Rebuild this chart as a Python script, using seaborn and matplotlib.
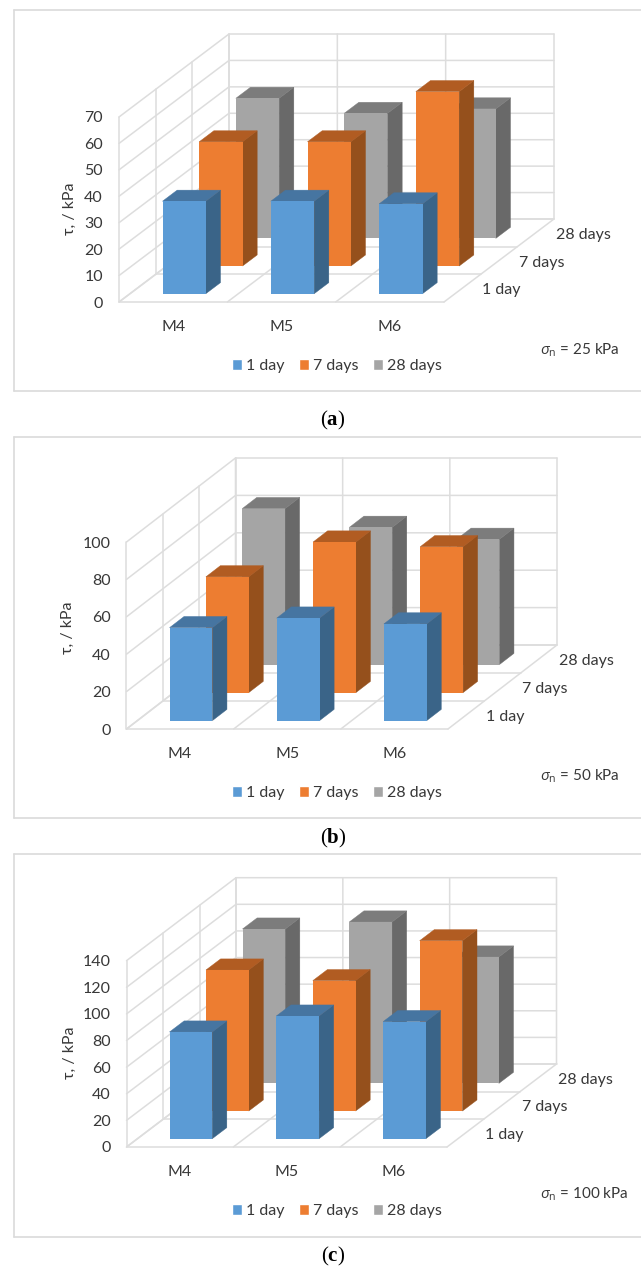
"""
Tensao de cisalhamento por mistura e idade, tres paineis em falso 3D.

As barras frontais saem do seaborn; cada serie e deslocada em profundidade
e as faces lateral e superior sao montadas a partir dos retangulos.
"""

import matplotlib

matplotlib.use("Agg")
import matplotlib.pyplot as plt
import pandas as pd
import seaborn as sns
from matplotlib.lines import Line2D
from matplotlib.patches import Patch, Polygon
from matplotlib.transforms import Affine2D, IdentityTransform

WIDTH, HEIGHT = 641, 1269

MIXES = ["M4", "M5", "M6"]
AGES = ["1 day", "7 days", "28 days"]

TAU_25 = [[35, 35, 34], [47, 47, 66], [53, 47.3, 49]]
TAU_50 = [[49.7, 54.8, 51.7], [61.9, 80.5, 78], [83.4, 73.4, 67]]
TAU_100 = [[80.2, 92.2, 88], [106, 98, 128], [116, 121.3, 95]]

LIMITS = [70, 100, 140]
STEPS = [10, 20, 20]
STRESS = ["25", "50", "100"]
LETTERS = ["a", "b", "c"]

FRONT = ["#5B9BD5", "#ED7D31", "#A5A5A5"]
SIDE = ["#3A6488", "#95501C", "#696969"]
TOP = ["#4675A1", "#B15C22", "#7C7C7C"]
GRID = "#DDDDDD"
TEXT = "#383838"

# posicoes em pixels da imagem: eixo frontal, profundidade total e moldura
LAYOUT = [
    dict(left=119, right=444, floor=302, top=117, dx=110, dy=83, box=(10, 391),
         ylabel=(70, 209), legend=366, sigma=350, caption=420.5),
    dict(left=126.5, right=448, floor=729, top=542, dx=109, dy=84, box=(436.5, 818),
         ylabel=(68, 628), legend=793, sigma=776, caption=838),
    dict(left=126.5, right=447, floor=1147, top=960.7, dx=109.5, dy=83, box=(854, 1236.5),
         ylabel=(70, 1053), legend=1211, sigma=1194, caption=1256.5),
]

sns.set_theme(style="white")
plt.rcParams["font.family"] = ["Lato", "DejaVu Sans"]
plt.rcParams["mathtext.fontset"] = "custom"
plt.rcParams["mathtext.rm"] = "Open Sans"
plt.rcParams["mathtext.it"] = "Open Sans:italic"
plt.rcParams["mathtext.bf"] = "Liberation Serif:bold"
plt.rcParams["text.color"] = TEXT

fig = plt.figure(figsize=(WIDTH / 100, HEIGHT / 100), dpi=100, facecolor="white")
px = Affine2D().scale(1, -1).translate(0, HEIGHT)


def draw_grid(ax, project, limit, step):
    levels = list(range(0, limit + 1, step))
    segments = []
    for level in levels:
        segments.append([project(-0.5, level, 0), project(-0.5, level, 3), project(2.5, level, 3)])
    for x in [-0.5, 0.5, 1.5, 2.5]:
        segments.append([project(x, 0, 0), project(x, 0, 3), project(x, limit, 3)])
    for depth in [0, 1, 2, 3]:
        segments.append([project(2.5, 0, depth), project(-0.5, 0, depth), project(-0.5, limit, depth)])
    for points in segments:
        xs, ys = zip(*points)
        ax.add_line(Line2D(xs, ys, color=GRID, lw=1.1, transform=IdentityTransform(),
                           clip_on=False, zorder=1))


def draw_panel(values, limit, step, stress, letter, cfg):
    ax = fig.add_axes([
        cfg["left"] / WIDTH,
        1 - cfg["floor"] / HEIGHT,
        (cfg["right"] - cfg["left"]) / WIDTH,
        (cfg["floor"] - cfg["top"]) / HEIGHT,
    ])

    df = pd.DataFrame(
        [(mix, age, values[i][j]) for i, age in enumerate(AGES) for j, mix in enumerate(MIXES)],
        columns=["mix", "age", "tau"],
    )
    sns.barplot(data=df, x="mix", y="tau", hue="age", hue_order=AGES, order=MIXES,
                palette=FRONT, dodge=False, width=0.4, errorbar=None, saturation=1,
                linewidth=0, legend=False, ax=ax)
    ax.set_xlim(-0.5, 2.5)
    ax.set_ylim(0, limit)
    ax.set_yticks(range(0, limit + 1, step))
    ax.patch.set_alpha(0)
    sns.despine(ax=ax, left=True, bottom=True)
    ax.tick_params(axis="x", length=0, pad=13, labelsize=11.5, labelcolor=TEXT)
    ax.tick_params(axis="y", length=0, pad=11.5, labelsize=11.5, labelcolor=TEXT)
    ax.set_xlabel("")
    ax.set_ylabel("")

    def project(x, y, depth):
        sx, sy = ax.transData.transform((x, y))
        return sx + depth / 3 * cfg["dx"], sy + depth / 3 * cfg["dy"]

    draw_grid(ax, project, limit, step)

    for k, container in enumerate(ax.containers):
        near, far = k + 0.3, k + 0.7
        zorder = 10 - k * 2
        for patch in container:
            x0, x1 = patch.get_x(), patch.get_x() + patch.get_width()
            h = patch.get_height()
            patch.set_transform(
                ax.transData + Affine2D().translate(near / 3 * cfg["dx"], near / 3 * cfg["dy"])
            )
            patch.set_clip_on(False)
            patch.set_zorder(zorder + 1)
            side = [project(x1, 0, near), project(x1, 0, far), project(x1, h, far), project(x1, h, near)]
            top = [project(x0, h, near), project(x1, h, near), project(x1, h, far), project(x0, h, far)]
            for points, color in [(side, SIDE[k]), (top, TOP[k])]:
                ax.add_patch(Polygon(points, closed=True, facecolor=color, edgecolor=color, lw=0.3,
                                     transform=IdentityTransform(), clip_on=False, zorder=zorder))

        # rotulo da idade na borda direita do piso
        lx, ly = project(2.5, 0, k + 0.5)
        ax.text(lx + 20, ly - 2, AGES[k], transform=IdentityTransform(), fontsize=11.5,
                va="center", ha="left", color=TEXT)

    ax.text(cfg["ylabel"][0], cfg["ylabel"][1], "τ, / kPa", transform=px, rotation=90,
            fontsize=11.5, ha="center", va="center", color=TEXT)
    ax.text(540, cfg["sigma"], r"$\mathit{\sigma}_{\mathrm{n}}$ = " + stress + " kPa",
            transform=px, fontsize=11, ha="left", va="center", color=TEXT)

    handles = [Patch(facecolor=c, label=a) for c, a in zip(FRONT, AGES)]
    fig.legend(handles=handles, loc="center", ncol=3, frameon=False, fontsize=11.5,
               bbox_to_anchor=(337, cfg["legend"]), bbox_transform=px, handlelength=0.62,
               handleheight=0.62, handletextpad=0.25, columnspacing=0.9, borderpad=0)

    top, bottom = cfg["box"]
    for xs, ys in [((13.5, WIDTH), (top, top)), ((13.5, 13.5), (top, bottom)), ((13.5, WIDTH), (bottom, bottom))]:
        fig.add_artist(Line2D(xs, ys, color="#DADADA", lw=1.2, transform=px))

    fig.text(333, cfg["caption"], "(" + r"$\mathbf{" + letter + r"}$" + ")", transform=px,
             family="Liberation Serif", fontsize=15, ha="center", va="center", color="black")


for values, limit, step, stress, letter, cfg in zip(
    [TAU_25, TAU_50, TAU_100], LIMITS, STEPS, STRESS, LETTERS, LAYOUT
):
    draw_panel(values, limit, step, stress, letter, cfg)

fig.savefig("out.png", dpi=100)
